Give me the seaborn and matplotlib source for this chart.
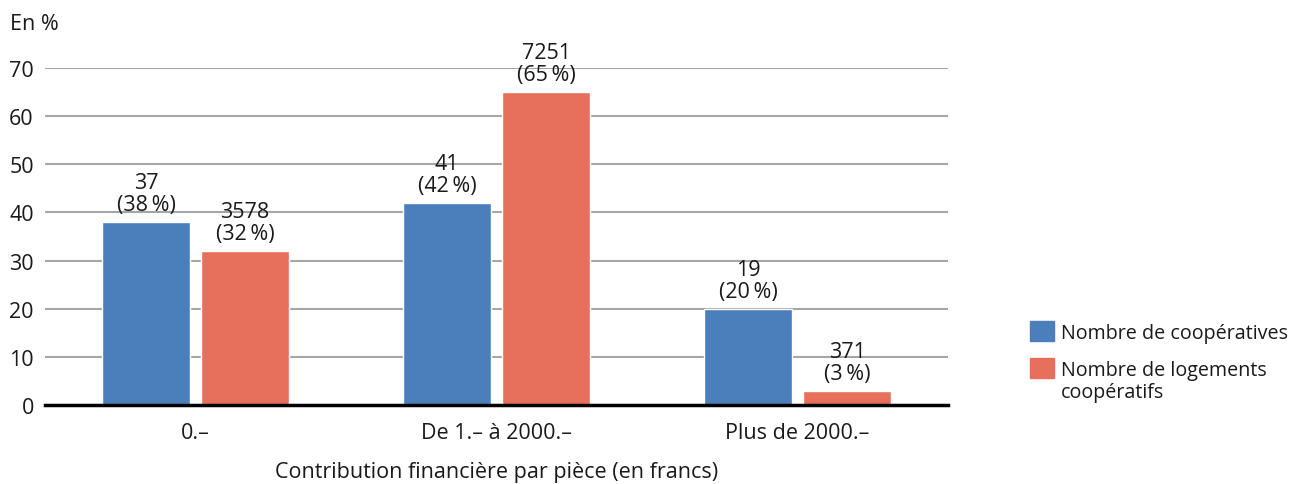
import matplotlib
matplotlib.use("Agg")
import matplotlib.pyplot as plt
import matplotlib.patches as mpatches
import seaborn as sns
import pandas as pd

categories = ["0.\u2013", "De 1.\u2013 à 2000.\u2013", "Plus de 2000.\u2013"]
series = ["Nombre de coopératives", "Nombre de logements coopératifs"]
legend_lines = [["Nombre de coopératives"], ["Nombre de logements", "coopératifs"]]
pct_coop = [38, 42, 20]
pct_logements = [32, 65, 3]
count_coop = [37, 41, 19]
count_logements = [3578, 7251, 371]

colors = ["#4a7fbc", "#e6705c"]

df = pd.DataFrame({
    "cat": categories * 2,
    "serie": [series[0]] * 3 + [series[1]] * 3,
    "pct": pct_coop + pct_logements,
    "n": count_coop + count_logements,
})

sns.set_style("white")
plt.rcParams["font.family"] = ["Open Sans", "DejaVu Sans"]
txt = "#1a1a1a"
fs = 15.5

fig = plt.figure(figsize=(12.89, 4.85), dpi=100)
ax = fig.add_axes([0.0349, 0.1629, 0.7006, 0.6948])

sns.barplot(data=df, x="cat", y="pct", hue="serie", order=categories,
            hue_order=series, palette=colors, width=0.658, gap=0.111,
            saturation=1, legend=False, ax=ax, zorder=3)

ax.set_xlim(-0.5, 2.5)
ax.set_ylim(0, 70)
ax.set_yticks(range(0, 80, 10))
ax.yaxis.grid(True, color="#a6a6a6", linewidth=1.5, zorder=0)
ax.set_axisbelow(True)
for s in ["top", "right", "left"]:
    ax.spines[s].set_visible(False)
ax.spines["bottom"].set_color("black")
ax.spines["bottom"].set_linewidth(2.5)
ax.spines["bottom"].set_zorder(4)
ax.tick_params(axis="both", length=0, labelsize=fs, colors=txt)
ax.tick_params(axis="y", pad=8)
ax.tick_params(axis="x", pad=12)
ax.set_ylabel("")
ax.set_xlabel("Contribution financière par pièce (en francs)", fontsize=fs,
              color=txt, labelpad=13)

# value labels
for cont, serie in zip(ax.containers, series):
    sub = df[df["serie"] == serie]
    for bar, (_, row) in zip(cont, sub.iterrows()):
        x = bar.get_x() + bar.get_width() / 2
        ax.annotate(f"{row['n']}\n({row['pct']}\u2009%)", (x, bar.get_height()),
                    xytext=(0, 5), textcoords="offset points", ha="center",
                    va="bottom", fontsize=fs, color=txt, linespacing=1.05,
                    annotation_clip=False)

fig.text(10 / 1289, 1 - 24 / 485, "En %", fontsize=fs, color=txt, va="center")

# legend: first line of each label next to the patch, second line below
handles = [mpatches.Patch(color=c, label=l[0]) for c, l in zip(colors, legend_lines)]
leg = fig.legend(handles=handles, loc="upper left",
                 bbox_to_anchor=(1030 / 1289, 1 - 322 / 485),
                 frameon=False, fontsize=14.2, handlelength=1.22, handleheight=1.22,
                 handletextpad=0.35, labelspacing=0.75, labelcolor=txt,
                 borderaxespad=0, borderpad=0)
fig.canvas.draw()
inv = fig.transFigure.inverted()
for t, lines in zip(leg.get_texts(), legend_lines):
    if len(lines) > 1:
        bb = t.get_window_extent()
        x0, y0 = inv.transform((bb.x0, bb.y0))
        fig.text(x0, y0 - 2 / 485, lines[1], fontsize=14.2, color=txt,
                 ha="left", va="top")

fig.savefig("out.png", dpi=100)
